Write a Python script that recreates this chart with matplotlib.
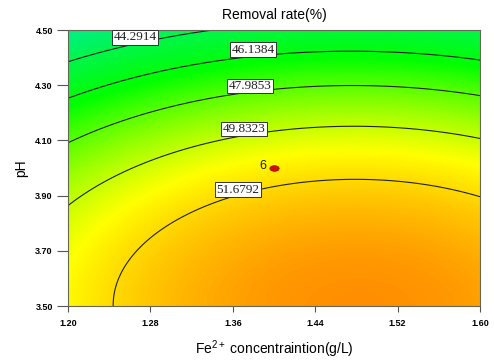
import numpy as np
import matplotlib
matplotlib.use("Agg")
import matplotlib.pyplot as plt
from matplotlib.colors import LinearSegmentedColormap, Normalize
from matplotlib.path import Path
from matplotlib.transforms import Affine2D

plt.rcParams["mathtext.fontset"] = "custom"
plt.rcParams["mathtext.rm"] = "Liberation Sans"
plt.rcParams["mathtext.it"] = "Liberation Sans:italic"
plt.rcParams["mathtext.bf"] = "Liberation Sans:bold"

# ---- data ----
fe_range = [1.20, 1.60]          # Fe2+ concentration (g/L)
ph_range = [3.50, 4.50]          # pH
x_ticks = [1.20, 1.28, 1.36, 1.44, 1.52, 1.60]
y_ticks = [3.50, 3.70, 3.90, 4.10, 4.30, 4.50]
x_tick_labels = ["1.20", "1.28", "1.36", "1.44", "1.52", "1.60"]
y_tick_labels = ["3.50", "3.70", "3.90", "4.10", "4.30", "4.50"]
contour_levels = [44.2914, 46.1384, 47.9853, 49.8323, 51.6792]

obs_fe = [1.200, 1.338,
          1.200, 1.309, 1.474, 1.600,
          1.200, 1.309, 1.474, 1.600,
          1.200, 1.262, 1.474, 1.600,
          1.244, 1.280, 1.309, 1.367, 1.474, 1.600]
obs_ph = [4.385, 4.500,
          4.255, 4.361, 4.424, 4.391,
          4.093, 4.228, 4.297, 4.262,
          3.866, 3.993, 4.158, 4.105,
          3.500, 3.746, 3.819, 3.906, 3.960, 3.895]
obs_rate = [44.2914] * 2 + [46.1384] * 4 + [47.9853] * 4 + \
           [49.8323] * 4 + [51.6792] * 6

design_point_x = [1.40]
design_point_y = [4.00]
design_point_label = ["6"]
label_pos_x = [1.265, 1.3796, 1.3767, 1.3709, 1.3650]
label_pos_y = [4.473, 4.4286, 4.2971, 4.1413, 3.9221]


def coded(fe, ph):
    fe = np.asarray(fe, float)
    ph = np.asarray(ph, float)
    X = (fe - np.mean(fe_range)) / ((fe_range[1] - fe_range[0]) / 2)
    Y = (ph - np.mean(ph_range)) / ((ph_range[1] - ph_range[0]) / 2)
    return X, Y


def design(X, Y):
    return np.stack([np.ones_like(X), X, Y, X**2, Y**2, X * Y], axis=-1)


# quadratic response-surface model fitted to the read contour points
Xo, Yo = coded(obs_fe, obs_ph)
coef, *_ = np.linalg.lstsq(design(Xo, Yo), np.asarray(obs_rate), rcond=None)

xs = np.linspace(fe_range[0], fe_range[1], 400)
ys = np.linspace(ph_range[0], ph_range[1], 400)
XX, YY = np.meshgrid(xs, ys)
Xc, Yc = coded(XX, YY)
Z = design(Xc, Yc) @ coef

# colormap (Design-Expert style)
zmin, zmax = 40.0, 56.0
stops = [(40.0, (0.0, 0.90, 0.85)),
         (46.5, (0.0, 1.0, 0.0)),
         (50.8, (1.0, 1.0, 0.0)),
         (53.6, (1.0, 0.55, 0.0)),
         (56.0, (1.0, 0.30, 0.0))]
cmap = LinearSegmentedColormap.from_list(
    "de", [((v - zmin) / (zmax - zmin), c) for v, c in stops])

fig = plt.figure(figsize=(4.94, 3.60), dpi=100)
ax = fig.add_axes([68/494, 1 - 306/360, 412/494, 276/360])
ax.imshow(Z, extent=[fe_range[0], fe_range[1], ph_range[0], ph_range[1]],
          origin="lower", aspect="auto", cmap=cmap,
          norm=Normalize(zmin, zmax), interpolation="bilinear")
cs = ax.contour(XX, YY, Z, levels=contour_levels, colors="#222222",
                linewidths=0.8)
labels = ax.clabel(cs, fmt=lambda v: f"{v:.4f}", inline=False,
                   fontsize=9.5, manual=list(zip(label_pos_x, label_pos_y)))
for t, px, py in zip(labels, label_pos_x, label_pos_y):
    t.set_family("Liberation Serif")
    t.set_rotation(0)
    t.set_position((px, py))
    t.set_zorder(6)
    t.set_bbox(dict(facecolor="white", edgecolor="#333333", linewidth=0.7,
                    pad=1.0))

ell = Path.unit_circle().transformed(Affine2D().scale(1.0, 0.6))
ax.scatter(design_point_x, design_point_y, s=45, color="#cc1111",
           marker=ell, zorder=5, edgecolors="#aa0000", linewidths=0.5)
for x, y, s in zip(design_point_x, design_point_y, design_point_label):
    ax.text(x - 0.007, y + 0.006, s, ha="right", va="center", fontsize=9,
            family="Liberation Sans", color="#222222")

ax.set_xlim(fe_range)
ax.set_ylim(ph_range)
ax.set_xticks(x_ticks)
ax.set_xticklabels(x_tick_labels)
ax.set_yticks(y_ticks)
ax.set_yticklabels(y_tick_labels)
for lab in ax.get_xticklabels() + ax.get_yticklabels():
    lab.set_fontsize(6.5)
    lab.set_fontweight("bold")
    lab.set_family("Liberation Sans")
ax.tick_params(axis="y", length=8, width=0.8, color="#555555", pad=3)
ax.tick_params(axis="x", length=4, width=0.8, color="#555555", pad=5)
for sp in ax.spines.values():
    sp.set_color("#666655")
    sp.set_linewidth(0.8)

ax.set_title("Removal rate(%)", fontsize=10, family="Liberation Sans", pad=8)
ax.set_xlabel(r"$\mathregular{Fe^{2+}}$ concentraintion(g/L)", fontsize=10,
              family="Liberation Sans", labelpad=8)
ax.set_ylabel("pH", fontsize=10, family="Liberation Sans", labelpad=5)

fig.savefig("out.png", dpi=100)
